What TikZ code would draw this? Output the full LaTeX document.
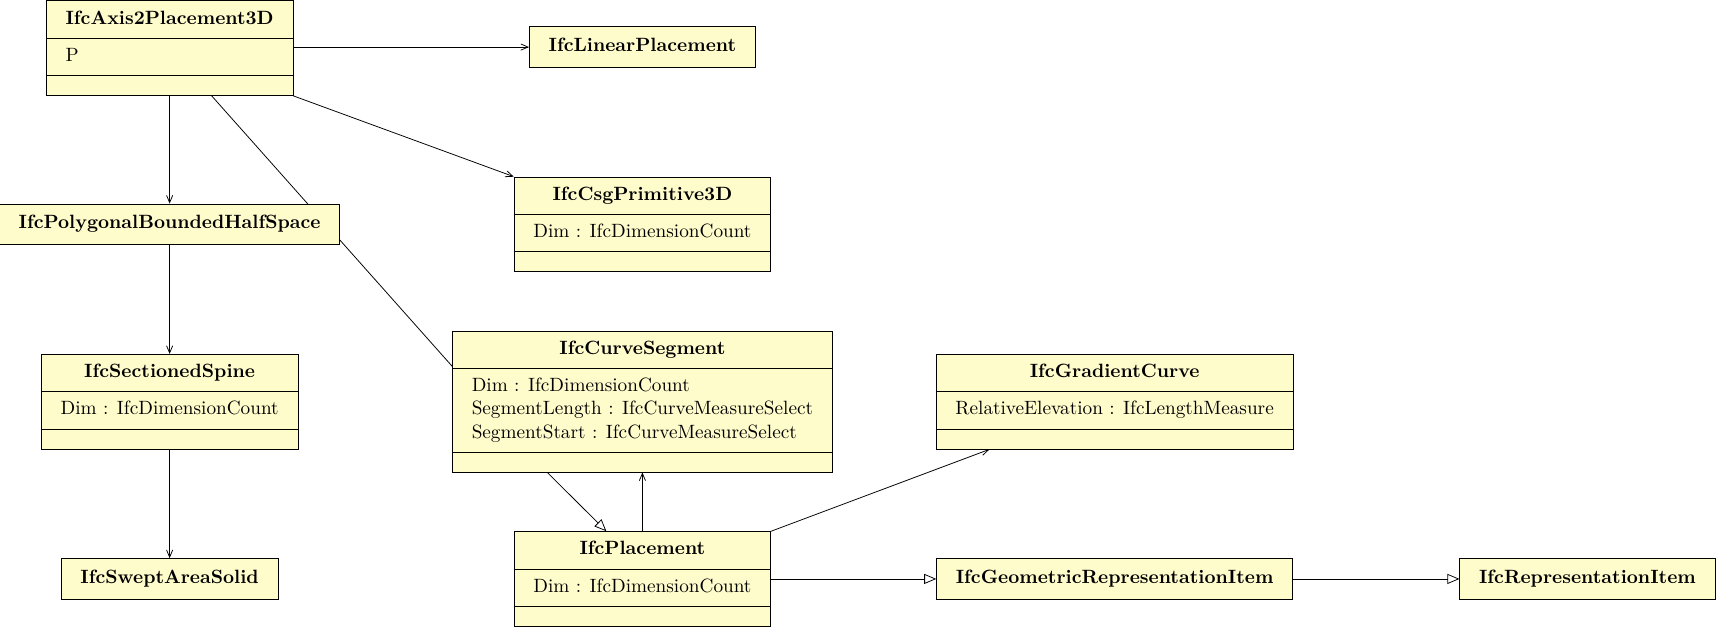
\documentclass[tikz,border=0pt]{standalone}
\usepackage{tikz}
\usetikzlibrary{calc,positioning,shapes,arrows,backgrounds}

\begin{document}
\begin{tikzpicture}[x=0.569pt,y=-0.569pt,
		umlclass/.style={rectangle split,rectangle split parts=3,rectangle split part align={center,left,left},draw,fill=yellow!20,inner xsep=10pt,inner ysep=3.5pt},
		umlbox/.style={rectangle,draw,fill=yellow!20,inner xsep=10pt,inner ysep=4.6pt,font=\bfseries},
		assoc/.style={-angle 45},
		inherit/.style={-open triangle 45}]
		\useasboundingbox (0,0) rectangle (1568,573);
		% first row
		\node(axis) [umlclass] at (155,44) {\textbf{IfcAxis2Placement3D}\strut
			\nodepart{two} P\strut
			\nodepart{three} \rule{0pt}{3pt}};
		\node(linpl) [umlbox] at (587,43) {IfcLinearPlacement\strut};
		% second row
		\node(poly) [umlbox] at (155,205) {IfcPolygonalBoundedHalfSpace\strut};
		\node(csg) [umlclass] at (587,205) {\textbf{IfcCsgPrimitive3D}\strut
			\nodepart{two} Dim : IfcDimensionCount\strut
			\nodepart{three} \rule{0pt}{3pt}};
		% third row
		\node(spine) [umlclass] at (155,367) {\textbf{IfcSectionedSpine}\strut
			\nodepart{two} Dim : IfcDimensionCount\strut
			\nodepart{three} \rule{0pt}{3pt}};
		\node(cseg) [umlclass] at (587,367) {\textbf{IfcCurveSegment}\strut
			\nodepart{two} \begin{tabular}{@{}l@{}}Dim : IfcDimensionCount\\ SegmentLength : IfcCurveMeasureSelect\\ SegmentStart : IfcCurveMeasureSelect\end{tabular}
			\nodepart{three} \rule{0pt}{3pt}};
		\node(grad) [umlclass] at (1018.5,367) {\textbf{IfcGradientCurve}\strut
			\nodepart{two} RelativeElevation : IfcLengthMeasure\strut
			\nodepart{three} \rule{0pt}{3pt}};
		% fourth row
		\node(swept) [umlbox] at (155,529) {IfcSweptAreaSolid\strut};
		\node(place) [umlclass] at (587,529) {\textbf{IfcPlacement}\strut
			\nodepart{two} Dim : IfcDimensionCount\strut
			\nodepart{three} \rule{0pt}{3pt}};
		\node(geom) [umlbox] at (1018.5,529) {IfcGeometricRepresentationItem\strut};
		\node(repr) [umlbox] at (1450.5,529) {IfcRepresentationItem\strut};
		% connectors
		\draw [assoc] (axis.east |- linpl) -- (linpl.west);
		\draw [assoc] (axis) -- (poly);
		\draw [assoc] (axis.south east) -- (csg.north west);
		\draw [assoc] (poly) -- (spine);
		\draw [assoc] (spine) -- (swept);
		\begin{scope}[on background layer]
			\draw ($(axis.south west)!0.67!(axis.south east)$) -- ($(cseg.north west)!0.25!(cseg.south west)$);
		\end{scope}
		\draw [inherit] ($(cseg.south west)!0.25!(cseg.south east)$) -- ($(place.north west)!0.36!(place.north east)$);
		\draw [assoc] (place.north) -- (cseg.south);
		\draw [assoc] (place.north east) -- ($(grad.south west)!0.15!(grad.south east)$);
		\draw [inherit] (place.east |- geom) -- (geom.west);
		\draw [inherit] (geom) -- (repr);
	\end{tikzpicture}
\end{document}
